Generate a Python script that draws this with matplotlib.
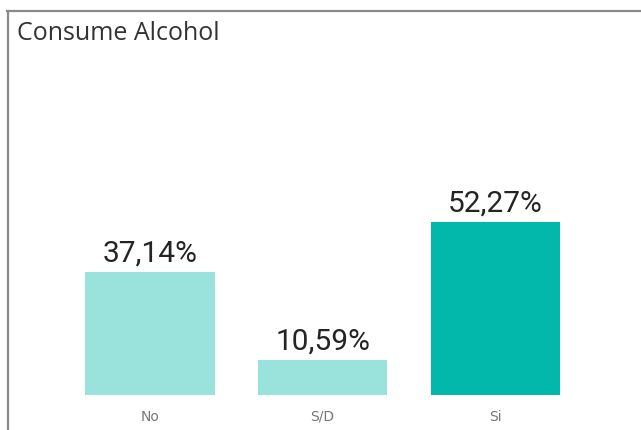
import matplotlib.pyplot as plt
from matplotlib.lines import Line2D

# consume alcohol answers, share of respondents (%)
categories = ["No", "S/D", "Si"]
shares = [37.14, 10.59, 52.27]
bar_colors = ["#9AE3DC", "#9AE3DC", "#01B8AA"]

W, H = 641, 430
fig = plt.figure(figsize=(W / 100, H / 100), dpi=100)
fig.patch.set_facecolor("white")

# axes placed in pixel terms: plot floor at y=395, categories spaced ~173px
ax = fig.add_axes([63.6 / W, 35 / H, 518 / W, 347 / H])
ax.bar(range(len(categories)), shares, width=0.75, color=bar_colors)
ax.set_xlim(-0.5, 2.5)
ax.set_ylim(0, 105)

for i, v in enumerate(shares):
    ax.annotate(f"{v:.2f}%".replace(".", ","), (i, v), xytext=(0, 7.5),
                textcoords="offset points", ha="center", va="baseline",
                fontsize=21.5, family="Roboto", color="#252423")

ax.set_xticks(range(len(categories)))
ax.set_xticklabels(categories, fontsize=10, color="#777777")
ax.tick_params(axis="x", length=0, pad=10.5)
ax.set_yticks([])
for s in ax.spines.values():
    s.set_visible(False)

# card frame: top and left edges only
fig.add_artist(Line2D([7 / W, 1], [1 - 10.5 / H, 1 - 10.5 / H], color="#8a8a8a", lw=1.6))
fig.add_artist(Line2D([8 / W, 8 / W], [0, 1 - 10.5 / H], color="#8a8a8a", lw=1.6))

fig.text(17 / W, 1 - 40 / H, "Consume Alcohol", fontsize=18, family="Open Sans",
         color="#333333", ha="left", va="baseline")

fig.savefig("out.png", dpi=100)
